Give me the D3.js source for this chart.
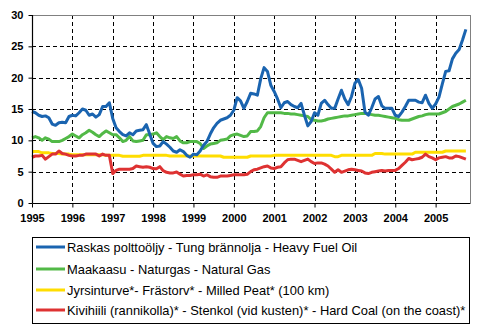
<!DOCTYPE html>
<html>
<head>
<meta charset="utf-8">
<script src="https://cdn.jsdelivr.net/npm/d3@7"></script>
<style>
  html, body { margin: 0; padding: 0; background: #fff; }
  svg { display: block; }
</style>
</head>
<body>
<svg id="chart" width="495" height="327"></svg>
<script>
// ---- Data (monthly, Jan 1995 .. Oct 2005) ----
const startYear = 1995;
const yearTicks = [1995, 1996, 1997, 1998, 1999, 2000, 2001, 2002, 2003, 2004, 2005];
const yTicks = [0, 5, 10, 15, 20, 25, 30];

const seriesNames = [
  "Raskas polttoöljy - Tung brännolja - Heavy Fuel Oil",
  "Maakaasu - Naturgas - Natural Gas",
  "Jyrsinturve*- Frästorv* - Milled Peat* (100 km)",
  "Kivihiili (rannikolla)* - Stenkol (vid kusten)* - Hard Coal (on the coast)*"
];
const seriesColors = ["#1a64b0", "#52b947", "#ffdd00", "#de3232"];

const heavyFuelOil = [
  14.6, 14.4, 14.0, 13.8, 13.9, 13.6, 12.6, 12.4, 12.8, 12.9, 12.8, 13.8,
  14.0, 13.9, 14.4, 15.0, 14.8, 14.0, 14.2, 13.7, 14.1, 15.4, 15.4, 16.0,
  13.5, 12.0, 11.4, 10.9, 10.7, 11.2, 10.9, 11.5, 11.6, 11.7, 12.5, 11.0,
  9.5, 9.0, 9.1, 9.8, 9.4, 8.9, 8.3, 8.1, 8.5, 8.2, 7.6, 7.3,
  7.8, 7.7, 8.3, 9.2, 9.8, 11.0, 12.0, 12.7, 13.2, 13.4, 13.6, 14.0,
  14.8, 16.8, 16.3, 15.1, 16.2, 17.5, 17.4, 17.2, 19.8, 21.6, 21.0, 18.8,
  17.8, 16.6, 15.2, 16.0, 16.2, 15.7, 15.4, 15.2, 15.9, 14.0, 12.3, 13.0,
  14.4, 14.0, 15.9, 16.4, 15.7, 15.1, 15.1, 16.6, 18.0, 16.6, 15.7, 17.0,
  19.1, 19.7, 18.3, 14.5, 14.0, 15.2, 16.6, 17.0, 15.5, 15.1, 15.1, 15.1,
  14.0, 13.8, 14.5, 15.4, 16.4, 16.4, 16.4, 16.1, 16.0, 17.2, 15.9, 15.1,
  15.8, 16.9, 19.0, 21.0, 21.1, 23.0, 23.9, 24.5, 26.0, 27.7
];
const naturalGas = [
  10.4, 10.6, 10.4, 10.0, 10.4, 10.2, 9.8, 9.8, 9.8, 10.0, 10.3, 10.6,
  11.0, 10.7, 10.4, 10.9, 11.2, 11.6, 11.3, 10.9, 10.6, 11.1, 11.5, 11.2,
  10.9, 10.9, 10.4, 9.8, 10.0, 10.6, 9.9, 9.8, 9.9, 10.0, 10.9, 10.9,
  11.0, 11.2, 10.6, 10.1, 10.6, 10.4, 10.3, 10.6, 9.9, 9.6, 9.6, 9.8,
  9.8, 9.8, 9.5, 8.7, 9.1, 9.4, 9.5, 9.6, 10.0, 10.1, 10.2, 10.7,
  10.9, 11.0, 10.8, 10.6, 10.7, 11.4, 11.4, 11.5, 12.2, 13.6, 14.4, 14.4,
  14.4, 14.4, 14.4, 14.3, 14.3, 14.2, 14.2, 14.1, 14.0, 13.9, 13.8, 13.3,
  13.2, 13.1, 13.1, 13.2, 13.4, 13.5, 13.6, 13.7, 13.8, 13.9, 13.9, 14.0,
  14.1, 14.2, 14.3, 14.3, 14.2, 14.1, 14.0, 14.0, 13.9, 13.8, 13.7, 13.6,
  13.5, 13.3, 13.2, 13.2, 13.2, 13.4, 13.6, 13.8, 13.9, 14.1, 14.2, 14.2,
  14.2, 14.2, 14.4, 14.6, 15.0, 15.4, 15.6, 15.8, 16.1, 16.4
];
const milledPeat = [
  8.2, 8.2, 8.2, 8.0, 8.0, 8.0, 7.9, 7.9, 7.9, 7.8, 7.8, 7.8,
  7.7, 7.7, 7.7, 7.7, 7.7, 7.7, 7.7, 7.7, 7.7, 7.7, 7.6, 7.6,
  7.6, 7.6, 7.6, 7.45, 7.45, 7.45, 7.45, 7.45, 7.45, 7.6, 7.6, 7.6,
  7.6, 7.6, 7.6, 7.6, 7.6, 7.5, 7.5, 7.5, 7.5, 7.5, 7.5, 7.5,
  7.5, 7.5, 7.5, 7.5, 7.5, 7.5, 7.5, 7.5, 7.5, 7.3, 7.3, 7.3,
  7.3, 7.3, 7.3, 7.3, 7.3, 7.5, 7.5, 7.5, 7.5, 7.5, 7.5, 7.5,
  7.6, 7.6, 7.6, 7.6, 7.6, 7.6, 7.6, 7.6, 7.6, 7.6, 7.6, 7.6,
  7.6, 7.6, 7.6, 7.6, 7.6, 7.6, 7.4, 7.4, 7.6, 7.6, 7.6, 7.6,
  7.6, 7.6, 7.6, 7.6, 7.6, 7.6, 7.9, 7.9, 7.9, 7.8, 7.8, 7.8,
  7.8, 7.8, 7.8, 7.8, 7.8, 7.8, 8.1, 8.1, 8.1, 8.1, 8.1, 8.1,
  8.1, 8.1, 8.1, 8.3, 8.3, 8.3, 8.3, 8.3, 8.3, 8.3
];
const hardCoal = [
  7.3, 7.5, 7.5, 7.6, 7.0, 7.4, 7.8, 7.8, 8.3, 7.9, 7.8, 7.6,
  7.5, 7.5, 7.6, 7.6, 7.8, 7.8, 7.8, 7.8, 7.5, 7.8, 7.6, 7.6,
  4.7, 5.2, 5.4, 5.4, 5.4, 5.4, 5.5, 5.9, 5.8, 5.7, 5.8, 5.7,
  5.5, 5.45, 5.8, 5.15, 4.9, 4.8, 4.8, 4.95, 4.6, 4.3, 4.4, 4.4,
  4.5, 4.5, 4.6, 4.3, 4.5, 4.2, 4.1, 4.1, 4.3, 4.3, 4.3, 4.4,
  4.5, 4.5, 4.5, 4.5, 4.6, 5.0, 5.3, 5.4, 5.6, 5.8, 5.9, 5.6,
  5.5, 5.7, 5.8, 6.4, 6.9, 7.0, 7.0, 6.8, 6.6, 6.8, 7.0, 6.6,
  6.3, 6.4, 6.4, 6.2, 5.9, 5.4, 4.9, 5.3, 4.9, 5.1, 5.3, 5.4,
  5.3, 5.2, 5.1, 4.8, 4.7, 4.9, 5.0, 5.1, 5.2, 5.1, 5.2, 5.2,
  5.2, 5.5, 6.0, 6.5, 7.1, 6.9, 7.0, 7.1, 7.3, 7.8, 7.4, 7.2,
  6.9, 7.2, 7.3, 7.4, 7.2, 7.2, 7.5, 7.4, 7.2, 7.0
];
const allSeries = [heavyFuelOil, naturalGas, milledPeat, hardCoal];

// ---- Layout ----
const svg = d3.select("#chart");
const plot = { left: 32, right: 470, top: 15, bottom: 203 };
const x = d3.scaleLinear().domain([1995, 2005.852]).range([plot.left, plot.right]);
const y = d3.scaleLinear().domain([0, 30]).range([plot.bottom, plot.top]);
const font = "Arial, 'Liberation Sans', Helvetica, sans-serif";

// gridlines
const grid = svg.append("g").attr("shape-rendering", "crispEdges");
grid.selectAll("line.h").data(yTicks.filter(v => v > 0 && v < 30)).join("line")
  .attr("x1", plot.left).attr("x2", plot.right)
  .attr("y1", d => Math.round(y(d)) + 0.5).attr("y2", d => Math.round(y(d)) + 0.5)
  .attr("stroke", "#000").attr("stroke-dasharray", "4,3");
grid.selectAll("line.v").data(yearTicks.filter(v => v > 1995)).join("line")
  .attr("y1", plot.top).attr("y2", plot.bottom)
  .attr("x1", d => Math.round(x(d)) + 0.5).attr("x2", d => Math.round(x(d)) + 0.5)
  .attr("stroke", "#000").attr("stroke-dasharray", "4,3");

// frame top/right gray
svg.append("path")
  .attr("d", `M${plot.left},${plot.top + 0.5}H${plot.right + 0.5}V${plot.bottom}`)
  .attr("fill", "none").attr("stroke", "#808080").attr("shape-rendering", "crispEdges");

// series lines
const line = d3.line()
  .x((d, i) => x(startYear + i / 12))
  .y(d => y(d));
const order = [1, 2, 3, 0];
svg.append("g").selectAll("path").data(order).join("path")
  .attr("d", k => line(allSeries[k]))
  .attr("fill", "none")
  .attr("stroke", k => seriesColors[k])
  .attr("stroke-width", 3)
  .attr("stroke-linejoin", "round");

// axes
const xAxis = d3.axisBottom(x).tickValues(yearTicks).tickFormat(d3.format("d")).tickSize(4).tickPadding(7);
const yAxis = d3.axisLeft(y).tickValues(yTicks).tickSize(4).tickPadding(5);
const gx = svg.append("g").attr("transform", `translate(0,${plot.bottom + 0.5})`).call(xAxis);
const gy = svg.append("g").attr("transform", `translate(${plot.left + 0.5},0)`).call(yAxis);
[gx, gy].forEach(g => {
  g.select(".domain").attr("stroke", "#000").attr("stroke-width", 1.2);
  g.selectAll(".tick line").attr("stroke", "#000");
  g.selectAll("text").attr("font-family", font).attr("font-size", 11)
    .attr("font-weight", "bold").attr("fill", "#000");
});
gx.select(".domain").attr("d", `M${plot.left + 0.5},0H${plot.right + 0.5}`);
gy.select(".domain").attr("d", `M0,${plot.bottom}V${plot.top}`);

// legend
const legend = { x: 32, y: 237, w: 437, h: 86 };
svg.append("rect")
  .attr("x", legend.x + 0.5).attr("y", legend.y + 0.5)
  .attr("width", legend.w).attr("height", legend.h)
  .attr("fill", "#fff").attr("stroke", "#000");
const rowY = [247, 269, 290, 310];
const lg = svg.append("g").selectAll("g").data(seriesNames).join("g")
  .attr("transform", (d, i) => `translate(0,${rowY[i]})`);
lg.append("line").attr("x1", 36).attr("x2", 65).attr("y1", 0).attr("y2", 0)
  .attr("stroke", (d, i) => seriesColors[i]).attr("stroke-width", 3);
lg.append("text").attr("x", 67).attr("y", 0).attr("dy", "0.36em")
  .attr("font-family", font).attr("font-size", 12.9).attr("fill", "#000")
  .text(d => d);
</script>
</body>
</html>
